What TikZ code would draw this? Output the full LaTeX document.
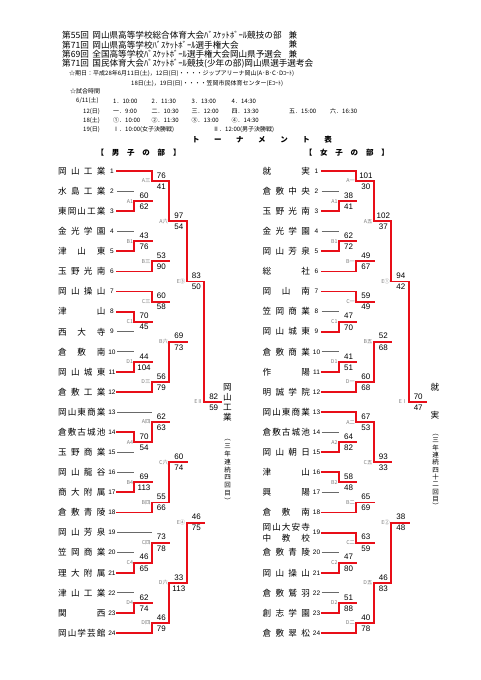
\documentclass[tikz,border=0pt]{standalone}
\usepackage{fontspec}
\setmainfont{Liberation Sans}
\newfontfamily\jp{Noto Sans CJK JP}
\usetikzlibrary{calc}
\pgfdeclarelayer{bg}
\pgfsetlayers{bg,main}
\definecolor{wred}{RGB}{232,14,24}
\definecolor{lgray}{RGB}{105,105,105}
\definecolor{tgray}{RGB}{125,125,125}
\def\bxo{0}
\def\spreadA#1{\ifx#1\relax\else\hfill#1\expandafter\spreadA\fi}
\def\spreadB#1{#1\spreadA}
\newcommand\spreadname[1]{\spreadB#1\relax}
% team name + number
\newcommand\tn[4]{%
  \node[tname] (#1n) at ({\bxo+81.8},{ry(#2)}) {\makebox[47.5pt]{\spreadname{#3}}};
  \node[tnum] (#1k) at ({\bxo+112},{ry(#2)}) {#4};}
% team line
\newcommand\tl[4]{%
  \coordinate (#1s) at ({\bxo+xc(0)},{ry(#2)});
  \coordinate (#1e) at ({\bxo+xc(#3)},{ry(#2)});
  \draw[#4] (#1s) -- (#1e);}
% match: id, xindex, row top, row bottom, row out, winner t/b, label, score top, score bottom
\newcommand\mt[9]{%
  \coordinate (#1t) at ({\bxo+xc(#2)},{ry(#3)});
  \coordinate (#1b) at ({\bxo+xc(#2)},{ry(#4)});
  \coordinate (#1o) at ({\bxo+xc(#2)},{ry(#5)});
  \coordinate (#1e) at ({\bxo+xc(#2+1)},{ry(#5)});
  \begin{pgfonlayer}{bg}\draw[gline] (#1t) -- (#1b);\end{pgfonlayer}
  \draw[rline] (#1#6) -- (#1o) -- (#1e);
  \node[mlab,anchor=east] (#1L) at ([xshift=-1.2pt]#1o) {#7};
  \node[score] (#1S) at ([xshift=9.6pt,yshift=5.6pt]#1o) {#8};
  \node[score] (#1T) at ([xshift=9.6pt,yshift=-5.6pt]#1o) {#9};}
\begin{document}
\begin{tikzpicture}[x=1pt,y=-1pt,
  declare function={ry(\a)=171+(\a-1)*20.09; xc(\a)=117+17.42*\a;},
  gline/.style={draw=lgray,line width=0.9pt},
  rline/.style={draw=wred,line width=1.9pt,line cap=rect},
  tname/.style={inner sep=0pt,font=\jp\fontsize{8.6pt}{9pt}\selectfont},
  tnum/.style={inner sep=0pt,font=\fontsize{6.5pt}{7pt}\selectfont},
  score/.style={inner sep=0pt,font=\fontsize{8pt}{9pt}\selectfont},
  mlab/.style={inner sep=0pt,text=tgray,font=\jp\fontsize{5.3pt}{6pt}\selectfont},
  hd/.style={inner sep=0pt,font=\jp\fontsize{8.6pt}{9pt}\selectfont},
  sm/.style={inner sep=0pt,anchor=west,font=\jp\fontsize{6pt}{7pt}\selectfont},
  sec/.style={inner sep=0pt,font=\jp\bfseries\fontsize{7.5pt}{8pt}\selectfont},
  win/.style={inner sep=0pt,align=center,font=\jp\fontsize{8.6pt}{10pt}\selectfont},
  wsub/.style={inner sep=0pt,align=center,font=\jp\fontsize{6.5pt}{7.8pt}\selectfont},
  wsubr/.style={inner sep=0pt,align=center,font=\jp\fontsize{6.5pt}{7.3pt}\selectfont}]
\fill[white] (0,0) rectangle (481,680);
\useasboundingbox (0,0) rectangle (481,680);

% ---------- header ----------
\node[hd,anchor=west] (h1) at (62,35) {第55回\hspace{3.5pt}岡山県高等学校総合体育大会ﾊﾞｽｹｯﾄﾎﾞｰﾙ競技の部};
\node[hd,anchor=west] (h2) at (62,44.7) {第71回\hspace{3.5pt}岡山県高等学校ﾊﾞｽｹｯﾄﾎﾞｰﾙ選手権大会};
\node[hd,anchor=west] (h3) at (62,54.4) {第69回\hspace{3.5pt}全国高等学校ﾊﾞｽｹｯﾄﾎﾞｰﾙ選手権大会岡山県予選会};
\node[hd,anchor=west] (h4) at (62,64) {第71回\hspace{3.5pt}国民体育大会ﾊﾞｽｹｯﾄﾎﾞｰﾙ競技(少年の部)岡山県選手選考会};
\node[hd] (k1) at (293,35) {兼};
\node[hd] (k2) at (293,44.7) {兼};
\node[hd] (k3) at (293,54.4) {兼};
\node[sm] (d1) at (69,74) {☆期日：平成28年6月11日(土)，12日(日)・・・・ジップアリーナ岡山(A･B･C･Dｺｰﾄ)};
\node[sm] (d2) at (131,83.3) {18日(土)，19日(日)・・・・笠岡市民体育センター(Eｺｰﾄ)};
\node[sm] (d3) at (70,91) {☆試合時間};
\node[sm] (s10) at (76,101) {6/11(土)};
\node[sm] (s11) at (113,101) {1．10:00};
\node[sm] (s12) at (151.5,101) {2．11:30};
\node[sm] (s13) at (191.5,101) {3．13:00};
\node[sm] (s14) at (231.5,101) {4．14:30};
\node[sm] (s20) at (83,111.2) {12(日)};
\node[sm] (s21) at (113,111.2) {一．9:00};
\node[sm] (s22) at (151.5,111.2) {二．10:30};
\node[sm] (s23) at (191.5,111.2) {三．12:00};
\node[sm] (s24) at (231.5,111.2) {四．13:30};
\node[sm] (s25) at (289,111.2) {五．15:00};
\node[sm] (s26) at (330,111.2) {六．16:30};
\node[sm] (s30) at (83,120.5) {18(土)};
\node[sm] (s31) at (113,120.5) {①．10:00};
\node[sm] (s32) at (151.5,120.5) {②．11:30};
\node[sm] (s33) at (191.5,120.5) {③．13:00};
\node[sm] (s34) at (231.5,120.5) {④．14:30};
\node[sm] (s40) at (83,129.5) {19(日)};
\node[sm] (s41) at (113,129.5) {Ⅰ．10:00(女子決勝戦)};
\node[sm] (s42) at (213,129.5) {Ⅱ．12:00(男子決勝戦)};
\node[sec] (ttl) at (262,139.5) {\makebox[140pt]{\spreadname{トーナメント表}}};
\node[sec] (secm) at (138.5,153) {\makebox[84pt]{\spreadname{【男子の部】}}};
\node[sec] (secf) at (346.8,153) {\makebox[84pt]{\spreadname{【女子の部】}}};

% ================= LEFT (boys) =================
\def\bxo{0}
\tn{L1}{1}{岡山工業}{1}
\tn{L2}{2}{水島工業}{2}
\tn{L3}{3}{東岡山工業}{3}
\tn{L4}{4}{金光学園}{4}
\tn{L5}{5}{津山東}{5}
\tn{L6}{6}{玉野光南}{6}
\tn{L7}{7}{岡山操山}{7}
\tn{L8}{8}{津山}{8}
\tn{L9}{9}{西大寺}{9}
\tn{L10}{10}{倉敷南}{10}
\tn{L11}{11}{岡山城東}{11}
\tn{L12}{12}{倉敷工業}{12}
\tn{L13}{13}{岡山東商業}{13}
\tn{L14}{14}{倉敷古城池}{14}
\tn{L15}{15}{玉野商業}{15}
\tn{L16}{16}{岡山龍谷}{16}
\tn{L17}{17}{商大附属}{17}
\tn{L18}{18}{倉敷青陵}{18}
\tn{L19}{19}{岡山芳泉}{19}
\tn{L20}{20}{笠岡商業}{20}
\tn{L21}{21}{理大附属}{21}
\tn{L22}{22}{津山工業}{22}
\tn{L23}{23}{関西}{23}
\tn{L24}{24}{岡山学芸館}{24}

\tl{Lt1}{1}{2}{rline}
\tl{Lt2}{2}{1}{gline}
\tl{Lt3}{3}{1}{rline}
\tl{Lt4}{4}{1}{gline}
\tl{Lt5}{5}{1}{rline}
\tl{Lt6}{6}{2}{rline}
\tl{Lt7}{7}{2}{rline}
\tl{Lt8}{8}{1}{rline}
\tl{Lt9}{9}{1}{gline}
\tl{Lt10}{10}{1}{gline}
\tl{Lt11}{11}{1}{rline}
\tl{Lt12}{12}{2}{rline}
\tl{Lt13}{13}{2}{gline}
\tl{Lt14}{14}{1}{rline}
\tl{Lt15}{15}{1}{gline}
\tl{Lt16}{16}{1}{gline}
\tl{Lt17}{17}{1}{rline}
\tl{Lt18}{18}{2}{rline}
\tl{Lt19}{19}{2}{gline}
\tl{Lt20}{20}{1}{gline}
\tl{Lt21}{21}{1}{rline}
\tl{Lt22}{22}{1}{gline}
\tl{Lt23}{23}{1}{rline}
\tl{Lt24}{24}{2}{rline}

\mt{LmA}{1}{2}{3}{2.5}{b}{A1}{60}{62}
\mt{LmB}{2}{1}{2.5}{1.5}{t}{A三}{76}{41}
\mt{LmC}{1}{4}{5}{4.5}{b}{B1}{43}{76}
\mt{LmD}{2}{4.5}{6}{5.5}{b}{B三}{53}{90}
\mt{LmE}{3}{1.5}{5.5}{3.5}{t}{A六}{97}{54}
\mt{LmF}{1}{8}{9}{8.5}{t}{C1}{70}{45}
\mt{LmG}{2}{7}{8.5}{7.5}{t}{C三}{60}{58}
\mt{LmH}{1}{10}{11}{10.5}{b}{D1}{44}{104}
\mt{LmI}{2}{10.5}{12}{11.5}{b}{D三}{56}{79}
\mt{LmJ}{3}{7.5}{11.5}{9.5}{b}{B六}{69}{73}
\mt{LmK}{4}{3.5}{9.5}{6.5}{t}{E③}{83}{50}
\mt{LmL}{1}{14}{15}{14.5}{t}{A4}{70}{54}
\mt{LmM}{2}{13}{14.5}{13.5}{b}{A四}{62}{63}
\mt{LmN}{1}{16}{17}{16.5}{b}{B4}{69}{113}
\mt{LmO}{2}{16.5}{18}{17.5}{b}{B四}{55}{66}
\mt{LmP}{3}{13.5}{17.5}{15.5}{b}{C六}{60}{74}
\mt{LmQ}{1}{20}{21}{20.5}{b}{C4}{46}{65}
\mt{LmR}{2}{19}{20.5}{19.5}{b}{C四}{73}{78}
\mt{LmS}{1}{22}{23}{22.5}{b}{D4}{62}{74}
\mt{LmT}{2}{22.5}{24}{23.5}{b}{D四}{46}{79}
\mt{LmU}{3}{19.5}{23.5}{21.5}{b}{D六}{33}{113}
\mt{LmV}{4}{15.5}{21.5}{18.5}{b}{E④}{46}{75}
\mt{LmW}{5}{6.5}{18.5}{12.5}{t}{EⅡ}{82}{59}

\node[win] (lwin) at (227.5,402) {岡\\山\\工\\業};
\node[wsub] (lsub) at (227.5,471.5) {︵\\三\\年\\連\\続\\四\\回\\目\\︶};

% ================= RIGHT (girls) =================
\def\bxo{204.5}
\tn{R1}{1}{就実}{1}
\tn{R2}{2}{倉敷中央}{2}
\tn{R3}{3}{玉野光南}{3}
\tn{R4}{4}{金光学園}{4}
\tn{R5}{5}{岡山芳泉}{5}
\tn{R6}{6}{総社}{6}
\tn{R7}{7}{岡山南}{7}
\tn{R8}{8}{笠岡商業}{8}
\tn{R9}{9}{岡山城東}{9}
\tn{R10}{10}{倉敷商業}{10}
\tn{R11}{11}{作陽}{11}
\tn{R12}{12}{明誠学院}{12}
\tn{R13}{13}{岡山東商業}{13}
\tn{R14}{14}{倉敷古城池}{14}
\tn{R15}{15}{岡山朝日}{15}
\tn{R16}{16}{津山}{16}
\tn{R17}{17}{興陽}{17}
\tn{R18}{18}{倉敷南}{18}
\node[tname] (R19n) at ({\bxo+81.8},{ry(19)-5.5}) {\makebox[47.5pt]{\spreadname{岡山大安寺}}};
\node[tname] (R19m) at ({\bxo+81.8},{ry(19)+5.5}) {\makebox[47.5pt]{\spreadname{中教校}}};
\node[tnum] (R19k) at ({\bxo+112},{ry(19)}) {19};
\tn{R20}{20}{倉敷青陵}{20}
\tn{R21}{21}{岡山操山}{21}
\tn{R22}{22}{倉敷鷲羽}{22}
\tn{R23}{23}{創志学園}{23}
\tn{R24}{24}{倉敷翠松}{24}

\tl{Rt1}{1}{2}{rline}
\tl{Rt2}{2}{1}{gline}
\tl{Rt3}{3}{1}{rline}
\tl{Rt4}{4}{1}{gline}
\tl{Rt5}{5}{1}{rline}
\tl{Rt6}{6}{2}{rline}
\tl{Rt7}{7}{2}{rline}
\tl{Rt8}{8}{1}{gline}
\tl{Rt9}{9}{1}{rline}
\tl{Rt10}{10}{1}{gline}
\tl{Rt11}{11}{1}{rline}
\tl{Rt12}{12}{2}{rline}
\tl{Rt13}{13}{2}{rline}
\tl{Rt14}{14}{1}{gline}
\tl{Rt15}{15}{1}{rline}
\tl{Rt16}{16}{1}{rline}
\tl{Rt17}{17}{1}{gline}
\tl{Rt18}{18}{2}{rline}
\tl{Rt19}{19}{2}{rline}
\tl{Rt20}{20}{1}{gline}
\tl{Rt21}{21}{1}{rline}
\tl{Rt22}{22}{1}{gline}
\tl{Rt23}{23}{1}{rline}
\tl{Rt24}{24}{2}{rline}

\mt{RmA}{1}{2}{3}{2.5}{b}{A1}{38}{41}
\mt{RmB}{2}{1}{2.5}{1.5}{t}{A一}{101}{30}
\mt{RmC}{1}{4}{5}{4.5}{b}{B1}{62}{72}
\mt{RmD}{2}{4.5}{6}{5.5}{b}{B一}{49}{67}
\mt{RmE}{3}{1.5}{5.5}{3.5}{t}{A五}{102}{37}
\mt{RmF}{1}{8}{9}{8.5}{b}{C1}{47}{70}
\mt{RmG}{2}{7}{8.5}{7.5}{t}{C一}{59}{49}
\mt{RmH}{1}{10}{11}{10.5}{b}{D1}{41}{51}
\mt{RmI}{2}{10.5}{12}{11.5}{b}{D一}{60}{68}
\mt{RmJ}{3}{7.5}{11.5}{9.5}{b}{B五}{52}{68}
\mt{RmK}{4}{3.5}{9.5}{6.5}{t}{E①}{94}{42}
\mt{RmL}{1}{14}{15}{14.5}{b}{A2}{64}{82}
\mt{RmM}{2}{13}{14.5}{13.5}{t}{A二}{67}{53}
\mt{RmN}{1}{16}{17}{16.5}{t}{B2}{58}{48}
\mt{RmO}{2}{16.5}{18}{17.5}{b}{B二}{65}{69}
\mt{RmP}{3}{13.5}{17.5}{15.5}{t}{C五}{93}{33}
\mt{RmQ}{1}{20}{21}{20.5}{b}{C2}{47}{80}
\mt{RmR}{2}{19}{20.5}{19.5}{t}{C二}{63}{59}
\mt{RmS}{1}{22}{23}{22.5}{b}{D2}{51}{88}
\mt{RmT}{2}{22.5}{24}{23.5}{b}{D二}{40}{78}
\mt{RmU}{3}{19.5}{23.5}{21.5}{b}{D五}{46}{83}
\mt{RmV}{4}{15.5}{21.5}{18.5}{b}{E②}{38}{48}
\mt{RmW}{5}{6.5}{18.5}{12.5}{t}{EⅠ}{70}{47}

\node[win] (rwin1) at (435,387) {就};
\node[win] (rwin2) at (435,415.5) {実};
\node[wsubr] (rsub) at (435.5,471.5) {︵\\三\\年\\連\\続\\四\\十\\二\\回\\目\\︶};
\end{tikzpicture}
\end{document}
